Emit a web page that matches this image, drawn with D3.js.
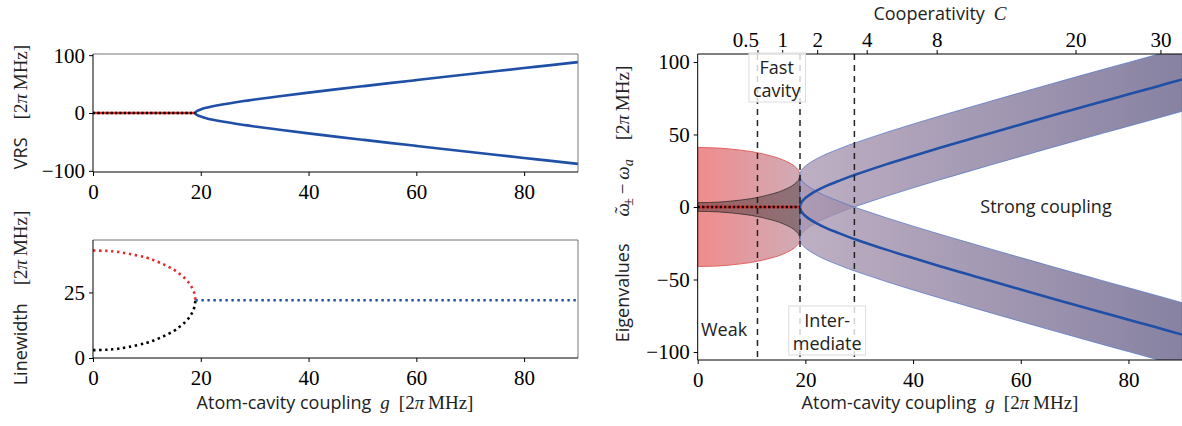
<!DOCTYPE html>
<html>
<head>
<meta charset="utf-8">
<script src="https://cdn.jsdelivr.net/npm/d3@7"></script>
<style>
  body { margin: 0; background: #fff; }
  svg { display: block; }
</style>
</head>
<body>
<svg width="1182" height="426"></svg>
<script>
// ---- data ----
// strong coupling branch (g >= 19): normal-mode splitting
const gStrong  = [19, 19.1, 19.25, 19.5, 20, 21, 22, 24, 26, 28, 30, 35, 40, 45, 50, 55, 60, 65, 70, 75, 80, 85, 90];
const vrsUpper = [0, 1.9, 3.1, 4.4, 6.2, 8.9, 11.1, 14.7, 17.7, 20.6, 23.2, 29.4, 35.2, 40.8, 46.2, 51.6, 56.9, 62.2, 67.4, 72.6, 77.7, 82.8, 88.0];
const vrsLower = [0, -1.9, -3.1, -4.4, -6.2, -8.9, -11.1, -14.7, -17.7, -20.6, -23.2, -29.4, -35.2, -40.8, -46.2, -51.6, -56.9, -62.2, -67.4, -72.6, -77.7, -82.8, -88.0];
const strongWidth = [22, 22, 22, 22, 22, 22, 22, 22, 22, 22, 22, 22, 22, 22, 22, 22, 22, 22, 22, 22, 22, 22, 22];

// weak coupling branch (g <= 19): degenerate frequency, two linewidths
const gWeak       = [0, 2, 4, 6, 8, 10, 12, 14, 15, 16, 17, 18, 18.5, 18.8, 19];
const weakVRS     = [0, 0, 0, 0, 0, 0, 0, 0, 0, 0, 0, 0, 0, 0, 0];
const cavityWidth = [41, 40.9, 40.6, 40.0, 39.2, 38.2, 36.7, 34.8, 33.7, 32.2, 30.5, 28.1, 26.3, 24.7, 22];
const atomWidth   = [3, 3.1, 3.4, 4.0, 4.8, 5.8, 7.3, 9.2, 10.3, 11.8, 13.5, 15.9, 17.7, 19.3, 22];

// tick labels
const gTicks    = [0, 20, 40, 60, 80];
const vrsTicks  = [-100, 0, 100];
const lwTicks   = [0, 25];
const eigTicks  = [-100, -50, 0, 50, 100];
const coopTicks = [0.5, 1, 2, 4, 8, 20, 30];
const coopAtRightEdge = 32.9;          // cooperativity at g = 90
const regionEdges = [11.1, 19, 29.1];  // dashed regime boundaries in g

const svg = d3.select('svg');
const sans = "'Open Sans', 'Noto Sans', sans-serif";
const serif = "'Liberation Serif', 'DejaVu Serif', serif";
const blue = '#1f4fa6', red = '#e62a2a';
const textSize = 18;

const xL = d3.scaleLinear().domain([0, 90]).range([93, 578]);
const yVRS = d3.scaleLinear().domain([-102, 102]).range([172, 54]);
const yLW = d3.scaleLinear().domain([0, 45]).range([358, 240]);
const xR = d3.scaleLinear().domain([0, 90]).range([697.7, 1182.3]);
const yR = d3.scaleLinear().domain([-105.5, 105.5]).range([360, 54]);
const xC = d3.scaleSqrt().domain([0, coopAtRightEdge]).range(xR.range());

const defs = svg.append('defs');
defs.append('clipPath').attr('id', 'clipR').append('rect')
    .attr('x', 697.7).attr('y', 54).attr('width', 484.6).attr('height', 306);

const redGrad = defs.append('linearGradient').attr('id', 'redGrad')
    .attr('gradientUnits', 'userSpaceOnUse')
    .attr('x1', xR(0)).attr('x2', xR(19)).attr('y1', 0).attr('y2', 0);
redGrad.append('stop').attr('offset', '0%').attr('stop-color', '#f08c8c');
redGrad.append('stop').attr('offset', '100%').attr('stop-color', '#d0abb5');

const blueGrad = defs.append('linearGradient').attr('id', 'blueGrad')
    .attr('gradientUnits', 'userSpaceOnUse')
    .attr('x1', xR(19)).attr('x2', xR(90)).attr('y1', 0).attr('y2', 0);
blueGrad.append('stop').attr('offset', '0%').attr('stop-color', '#a894af');
blueGrad.append('stop').attr('offset', '100%').attr('stop-color', '#5f5883');

function styleTicks(g, fontSize) {
    g.select('.domain').remove();
    g.selectAll('.tick line').attr('stroke', '#000').attr('stroke-width', 1);
    g.selectAll('.tick text')
        .attr('font-family', serif)
        .attr('font-size', fontSize)
        .attr('fill', '#000');
}

function bottomAxis(x, yPos, ticks) {
    const g = svg.append('g').attr('transform', `translate(0,${yPos})`)
        .call(d3.axisBottom(x).tickValues(ticks).tickSize(4).tickFormat(d3.format('d')));
    styleTicks(g, 21);
    g.selectAll('.tick text').attr('dy', null).attr('y', 27);
}

function leftAxis(y, xPos, ticks) {
    const g = svg.append('g').attr('transform', `translate(${xPos},0)`)
        .call(d3.axisLeft(y).tickValues(ticks).tickSize(4).tickFormat(d3.format('d')));
    styleTicks(g, 21);
    g.selectAll('.tick text').attr('x', -8).attr('dy', '0.33em');
}

function frame(x, y, topColor, rightColor) {
    const [x0, x1] = x.range(), [y1, y0] = y.range();
    svg.append('line').attr('x1', x0).attr('x2', x1).attr('y1', y0).attr('y2', y0).attr('stroke', topColor);
    svg.append('line').attr('x1', x1).attr('x2', x1).attr('y1', y0).attr('y2', y1).attr('stroke', rightColor);
    svg.append('line').attr('x1', x0).attr('x2', x1).attr('y1', y1).attr('y2', y1).attr('stroke', '#000');
    svg.append('line').attr('x1', x0).attr('x2', x0).attr('y1', y0).attr('y2', y1).attr('stroke', '#000');
}

// label made of sans words and serif math pieces
function mixedLabel(g, parts) {
    const t = g.append('text').attr('fill', '#222');
    parts.forEach(p => {
        const s = t.append('tspan').text(p.t)
            .attr('font-family', p.math ? serif : sans)
            .attr('font-size', p.size || (p.math ? 19 : textSize));
        if (p.it) s.attr('font-style', 'italic');
        if (p.dx) s.attr('dx', p.dx);
        if (p.dy) s.attr('dy', p.dy);
    });
    return t;
}

const unitParts = [
    { t: '[2', math: true },
    { t: 'π', math: true, it: true },
    { t: '\u2009MHz]', math: true }
];

// ---------- top-left: VRS ----------
const vrsLine = d3.line().x(d => xL(d[0])).y(d => yVRS(d[1])).curve(d3.curveCatmullRom);
const vrsPts = gStrong.map((g, i) => [g, vrsUpper[i]]).reverse()
    .concat(gStrong.slice(1).map((g, i) => [g, vrsLower[i + 1]]));
svg.append('path').attr('d', vrsLine(vrsPts))
    .attr('fill', 'none').attr('stroke', blue).attr('stroke-width', 2.6);
const weakPts = gWeak.map((g, i) => [g, weakVRS[i]]);
svg.append('path').attr('d', vrsLine(weakPts))
    .attr('fill', 'none').attr('stroke', red).attr('stroke-width', 2.6);
svg.append('path').attr('d', vrsLine(weakPts))
    .attr('fill', 'none').attr('stroke', '#000').attr('stroke-width', 2.6).attr('stroke-dasharray', '2.2,2.2');
frame(xL, yVRS, '#777', '#777');
leftAxis(yVRS, 93, vrsTicks);
bottomAxis(xL, 172, gTicks);

const vrsLab = svg.append('g').attr('transform', 'translate(27,107) rotate(-90)');
mixedLabel(vrsLab, [{ t: 'VRS\u2003' }].concat(unitParts)).attr('text-anchor', 'middle');

// ---------- bottom-left: linewidth ----------
const lwLine = d3.line().x(d => xL(d[0])).y(d => yLW(d[1])).curve(d3.curveMonotoneY);
const dots = '2.4,3.6';
svg.append('path').attr('d', lwLine(gWeak.map((g, i) => [g, cavityWidth[i]])))
    .attr('fill', 'none').attr('stroke', red).attr('stroke-width', 2.6).attr('stroke-dasharray', dots);
svg.append('path').attr('d', lwLine(gWeak.map((g, i) => [g, atomWidth[i]])))
    .attr('fill', 'none').attr('stroke', '#000').attr('stroke-width', 2.6).attr('stroke-dasharray', dots);
svg.append('path').attr('d', d3.line().x(d => xL(d[0])).y(d => yLW(d[1]))(gStrong.map((g, i) => [g, strongWidth[i]])))
    .attr('fill', 'none').attr('stroke', blue).attr('stroke-width', 2.6).attr('stroke-dasharray', dots);
frame(xL, yLW, '#777', '#777');
leftAxis(yLW, 93, lwTicks);
bottomAxis(xL, 358, gTicks);

const lwLab = svg.append('g').attr('transform', 'translate(27,298) rotate(-90)');
mixedLabel(lwLab, [{ t: 'Linewidth\u2003' }].concat(unitParts)).attr('text-anchor', 'middle');

const gLab = [
    { t: 'Atom-cavity coupling\u2002' },
    { t: 'g', math: true, it: true },
    { t: '\u2002' }
].concat(unitParts);
mixedLabel(svg.append('g').attr('transform', 'translate(335,409)'), gLab).attr('text-anchor', 'middle');

// ---------- right: eigenvalues ----------
const plot = svg.append('g').attr('clip-path', 'url(#clipR)');

// cavity-like band (weak regime)
plot.append('path')
    .attr('d', d3.area().x((d, i) => xR(gWeak[i])).y0((d, i) => yR(-cavityWidth[i])).y1((d, i) => yR(cavityWidth[i]))
        .curve(d3.curveMonotoneX)(gWeak))
    .attr('fill', 'url(#redGrad)').attr('stroke', '#e06464').attr('stroke-width', 1);

// atom-like band (weak regime)
plot.append('path')
    .attr('d', d3.area().x((d, i) => xR(gWeak[i])).y0((d, i) => yR(-atomWidth[i])).y1((d, i) => yR(atomWidth[i]))
        .curve(d3.curveMonotoneX)(gWeak))
    .attr('fill', '#000').attr('fill-opacity', 0.33)
    .attr('stroke', '#222').attr('stroke-opacity', 0.7).attr('stroke-width', 1);

// two polariton bands (strong regime)
[vrsUpper, vrsLower].forEach(center => {
    plot.append('path')
        .attr('d', d3.area().x((d, i) => xR(gStrong[i]))
            .y0((d, i) => yR(center[i] - strongWidth[i]))
            .y1((d, i) => yR(center[i] + strongWidth[i]))
            .curve(d3.curveMonotoneX)(gStrong))
        .attr('fill', 'url(#blueGrad)').attr('fill-opacity', 0.75)
        .attr('stroke', '#5577c4').attr('stroke-opacity', 0.75).attr('stroke-width', 1);
});

const eigLine = d3.line().x(d => xR(d[0])).y(d => yR(d[1])).curve(d3.curveCatmullRom);
plot.append('path').attr('d', eigLine(vrsPts))
    .attr('fill', 'none').attr('stroke', blue).attr('stroke-width', 2.6);
plot.append('path').attr('d', eigLine(weakPts))
    .attr('fill', 'none').attr('stroke', red).attr('stroke-width', 2.6);
plot.append('path').attr('d', eigLine(weakPts))
    .attr('fill', 'none').attr('stroke', '#000').attr('stroke-width', 2.6).attr('stroke-dasharray', '2.2,2.2');

plot.selectAll('.edge').data(regionEdges).enter().append('line')
    .attr('x1', d => xR(d)).attr('x2', d => xR(d))
    .attr('y1', 54).attr('y2', 360)
    .attr('stroke', '#222').attr('stroke-width', 1.5).attr('stroke-dasharray', '6,5');

frame(xR, yR, '#000', '#777');
leftAxis(yR, 697.7, eigTicks);
bottomAxis(xR, 360, gTicks);

// cooperativity axis on top
const topAx = svg.append('g').attr('transform', 'translate(0,54)')
    .call(d3.axisTop(xC).tickValues(coopTicks).tickSize(4).tickFormat(d => String(d)));
styleTicks(topAx, 21);
topAx.selectAll('.tick text').attr('y', -7).attr('dy', null)
    .attr('dx', d => d === 0.5 ? -12 : null);

mixedLabel(svg.append('g').attr('transform', 'translate(940,20)'), [
    { t: 'Cooperativity\u2002' }, { t: 'C', math: true, it: true }
]).attr('text-anchor', 'middle');

mixedLabel(svg.append('g').attr('transform', 'translate(940,409)'), gLab).attr('text-anchor', 'middle');

const eigLab = svg.append('g').attr('transform', 'translate(629,204) rotate(-90)');
mixedLabel(eigLab, [
    { t: 'Eigenvalues\u2003\u2002' },
    { t: 'ω', math: true, it: true },
    { t: '\u02DC', math: true, dx: -10.5, dy: -1 },
    { t: '±', math: true, size: 14, dx: 1.5, dy: 5 },
    { t: '\u2009−\u2009', math: true, dy: -4 },
    { t: 'ω', math: true, it: true },
    { t: 'a', math: true, it: true, size: 14, dy: 4 },
    { t: '\u2003', math: true, dy: -4 }
].concat(unitParts)).attr('text-anchor', 'middle');

// regime annotations
function boxedNote(lines, cx, baselines) {
    const g = svg.append('g');
    const rect = g.append('rect');
    const t = g.append('text').attr('font-family', sans).attr('font-size', textSize)
        .attr('fill', '#222').attr('text-anchor', 'middle');
    lines.forEach((s, i) => t.append('tspan').attr('x', cx).attr('y', baselines[i]).text(s));
    const bb = t.node().getBBox();
    rect.attr('x', bb.x - 4).attr('y', bb.y - 2).attr('width', bb.width + 8).attr('height', bb.height + 2)
        .attr('fill', '#fff').attr('fill-opacity', 0.8).attr('stroke', '#dcdcdc');
}
boxedNote(['Fast', 'cavity'], (xR(regionEdges[0]) + xR(regionEdges[1])) / 2 - 2, [74, 97]);
boxedNote(['Inter-', 'mediate'], (xR(regionEdges[1]) + xR(regionEdges[2])) / 2, [327, 350]);

svg.append('text').attr('x', 724).attr('y', 336).attr('text-anchor', 'middle')
    .attr('font-family', sans).attr('font-size', textSize).attr('fill', '#222').text('Weak');
svg.append('text').attr('x', 1046).attr('y', 213).attr('text-anchor', 'middle')
    .attr('font-family', sans).attr('font-size', textSize).attr('fill', '#222').text('Strong coupling');
</script>
</body>
</html>
